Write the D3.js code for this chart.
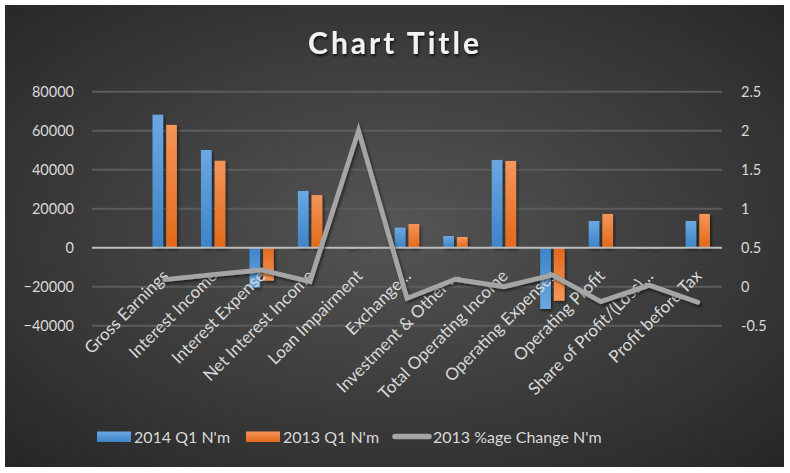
<!DOCTYPE html>
<html><head><meta charset="utf-8">
<script src="https://cdn.jsdelivr.net/npm/d3@7"></script>
<style>
html,body{margin:0;padding:0;background:#fff;}
svg{display:block;}
text{font-family:Lato,"Open Sans",sans-serif;}
</style></head>
<body>
<svg id="c" width="790" height="473"></svg>
<script>
const categories = ["", "Gross Earnings", "Interest Income", "Interest Expense", "Net Interest Income", "Loan Impairment", "Exchange…", "Investment & Other …", "Total Operating Income", "Operating Expenses", "Operating Profit", "Share of Profit/(Loss)…", "Profit before Tax"];
const q1_2014 = [null, 68200, 50100, -20300, 29100, -600, 10300, 6000, 45000, -31400, 13700, -400, 13700];
const q1_2013 = [null, 63000, 44600, -16900, 27000, -300, 12150, 5500, 44500, -27200, 17300, 0, 17300];
const pctChange = [null, 0.09, 0.155, 0.215, 0.065, 2.0, -0.15, 0.095, 0.0, 0.15, -0.19, 0.02, -0.2];
const leftTicks = [-40000, -20000, 0, 20000, 40000, 60000, 80000];
const rightTicks = [-0.5, 0, 0.5, 1, 1.5, 2, 2.5];
const seriesNames = ["2014 Q1 N'm", "2013 Q1 N'm", "2013 %age Change N'm"];

const svg = d3.select("#c");
const defs = svg.append("defs");

const rg = defs.append("radialGradient").attr("id","bg").attr("cx","50%").attr("cy","48%").attr("r","72%");
rg.append("stop").attr("offset","0%").attr("stop-color","#555555");
rg.append("stop").attr("offset","100%").attr("stop-color","#262626");

function lg(id, c1, c2){
  const g = defs.append("linearGradient").attr("id",id).attr("x1",0).attr("y1",0).attr("x2",0).attr("y2",1);
  g.append("stop").attr("offset","0%").attr("stop-color",c1);
  g.append("stop").attr("offset","100%").attr("stop-color",c2);
}
lg("gBlue","#6ba8e2","#3d83c6");
lg("gOrange","#f5955a","#e2691a");
lg("gBlueN","#3d83c6","#6ba8e2");
lg("gOrangeN","#e2691a","#f5955a");

const sh = defs.append("filter").attr("id","sh").attr("x","-30%").attr("y","-30%").attr("width","160%").attr("height","160%");
sh.append("feDropShadow").attr("dx",1.5).attr("dy",2).attr("stdDeviation",1.6).attr("flood-color","#000").attr("flood-opacity",0.55);
const tsh = defs.append("filter").attr("id","tsh").attr("x","-10%").attr("y","-30%").attr("width","120%").attr("height","160%");
tsh.append("feDropShadow").attr("dx",1).attr("dy",2).attr("stdDeviation",1.2).attr("flood-color","#000").attr("flood-opacity",0.7);

svg.append("rect").attr("x",5).attr("y",5).attr("width",779).attr("height",462).attr("fill","url(#bg)");

const x0 = d3.scaleBand().domain(categories).range([92,722]).padding(0);
const bw = x0.bandwidth();
const x1 = d3.scaleBand().domain(["a","b"]).range([bw/2-12.2, bw/2+12.2]).paddingInner(0.22);
const yL = d3.scaleLinear().domain([-40000,80000]).range([325.7,91.7]);
const yR = d3.scaleLinear().domain([-0.5,2.5]).range([325.7,91.7]);

// gridlines
svg.append("g").selectAll("line").data(leftTicks.filter(d=>d!==0)).join("line")
  .attr("x1",92).attr("x2",722).attr("y1",d=>yL(d)).attr("y2",d=>yL(d))
  .attr("stroke","#5c5c5c").attr("stroke-width",2);

// left axis
const axL = d3.axisLeft(yL).tickValues(leftTicks).tickSize(0).tickPadding(0).tickFormat(d3.format("d"));
const gL = svg.append("g").attr("transform","translate(74,0)").call(axL);
gL.select(".domain").remove();
gL.selectAll("text").attr("fill","#d9d9d9").attr("font-size","14.5px").attr("dy","0.35em").attr("font-family","Lato,sans-serif");

const axR = d3.axisRight(yR).tickValues(rightTicks).tickSize(0).tickPadding(0).tickFormat(d=>String(d));
const gR = svg.append("g").attr("transform","translate(741,0)").call(axR);
gR.select(".domain").remove();
gR.selectAll("text").attr("fill","#d9d9d9").attr("font-size","14.5px").attr("dy","0.35em").attr("font-family","Lato,sans-serif");

// bars
const rows = categories.map((c,i)=>({c, a:q1_2014[i], b:q1_2013[i]}));
const gBars = svg.append("g").attr("filter","url(#sh)");
rows.forEach(r=>{
  [["a",r.a,"gBlue","gBlueN"],["b",r.b,"gOrange","gOrangeN"]].forEach(([k,v,gp,gn])=>{
    if(v==null) return;
    const y0 = yL(0), yv = yL(v);
    gBars.append("rect")
      .attr("x", x0(r.c)+x1(k)).attr("width", x1.bandwidth())
      .attr("y", Math.min(y0,yv)).attr("height", Math.max(Math.abs(yv-y0),0.8))
      .attr("fill", v>=0?`url(#${gp})`:`url(#${gn})`);
  });
});

// zero axis line
svg.append("line").attr("x1",92).attr("x2",722).attr("y1",yL(0)).attr("y2",yL(0))
  .attr("stroke","#bdbdbd").attr("stroke-width",2);

// category labels
svg.append("g").selectAll("text").data(categories).join("text")
  .attr("transform",d=>`translate(${x0(d)+bw/2+5},277) rotate(-45)`)
  .attr("text-anchor","end").attr("fill","#d9d9d9").attr("font-size","17px")
  .text(d=>d);

// line
const pts = categories.map((c,i)=>({c,v:pctChange[i]})).filter(d=>d.v!=null);
const line = d3.line().x(d=>x0(d.c)+bw/2).y(d=>yR(d.v));
svg.append("path").datum(pts).attr("d",line).attr("fill","none")
  .attr("stroke","#a5a5a5").attr("stroke-width",4.8).attr("stroke-linecap","round").attr("stroke-linejoin","miter")
  .attr("filter","url(#sh)");

// title
svg.append("text").attr("x",395).attr("y",54).attr("text-anchor","middle")
  .attr("font-size","30px").attr("font-weight","bold").attr("fill","#f2f2f2")
  .attr("letter-spacing","3px").attr("filter","url(#tsh)")
  .attr("font-family","'Open Sans',Lato,sans-serif")
  .text("Chart Title");

// legend
const leg = svg.append("g");
const legItems = [
  {name:seriesNames[0], x:97, type:"bar", fill:"url(#gBlue)"},
  {name:seriesNames[1], x:246, type:"bar", fill:"url(#gOrange)"},
  {name:seriesNames[2], x:393, type:"line"}
];
legItems.forEach(it=>{
  if(it.type==="bar"){
    leg.append("rect").attr("x",it.x).attr("y",431.5).attr("width",34).attr("height",10.5).attr("fill",it.fill);
  } else {
    leg.append("line").attr("x1",it.x+2).attr("x2",it.x+36).attr("y1",436.5).attr("y2",436.5)
      .attr("stroke","#a5a5a5").attr("stroke-width",5.5).attr("stroke-linecap","round");
  }
  leg.append("text").attr("x",it.x+(it.type==="bar"?37:40)).attr("y",443).attr("fill","#d9d9d9").attr("font-size","16px").text(it.name);
});
</script>
</body></html>
